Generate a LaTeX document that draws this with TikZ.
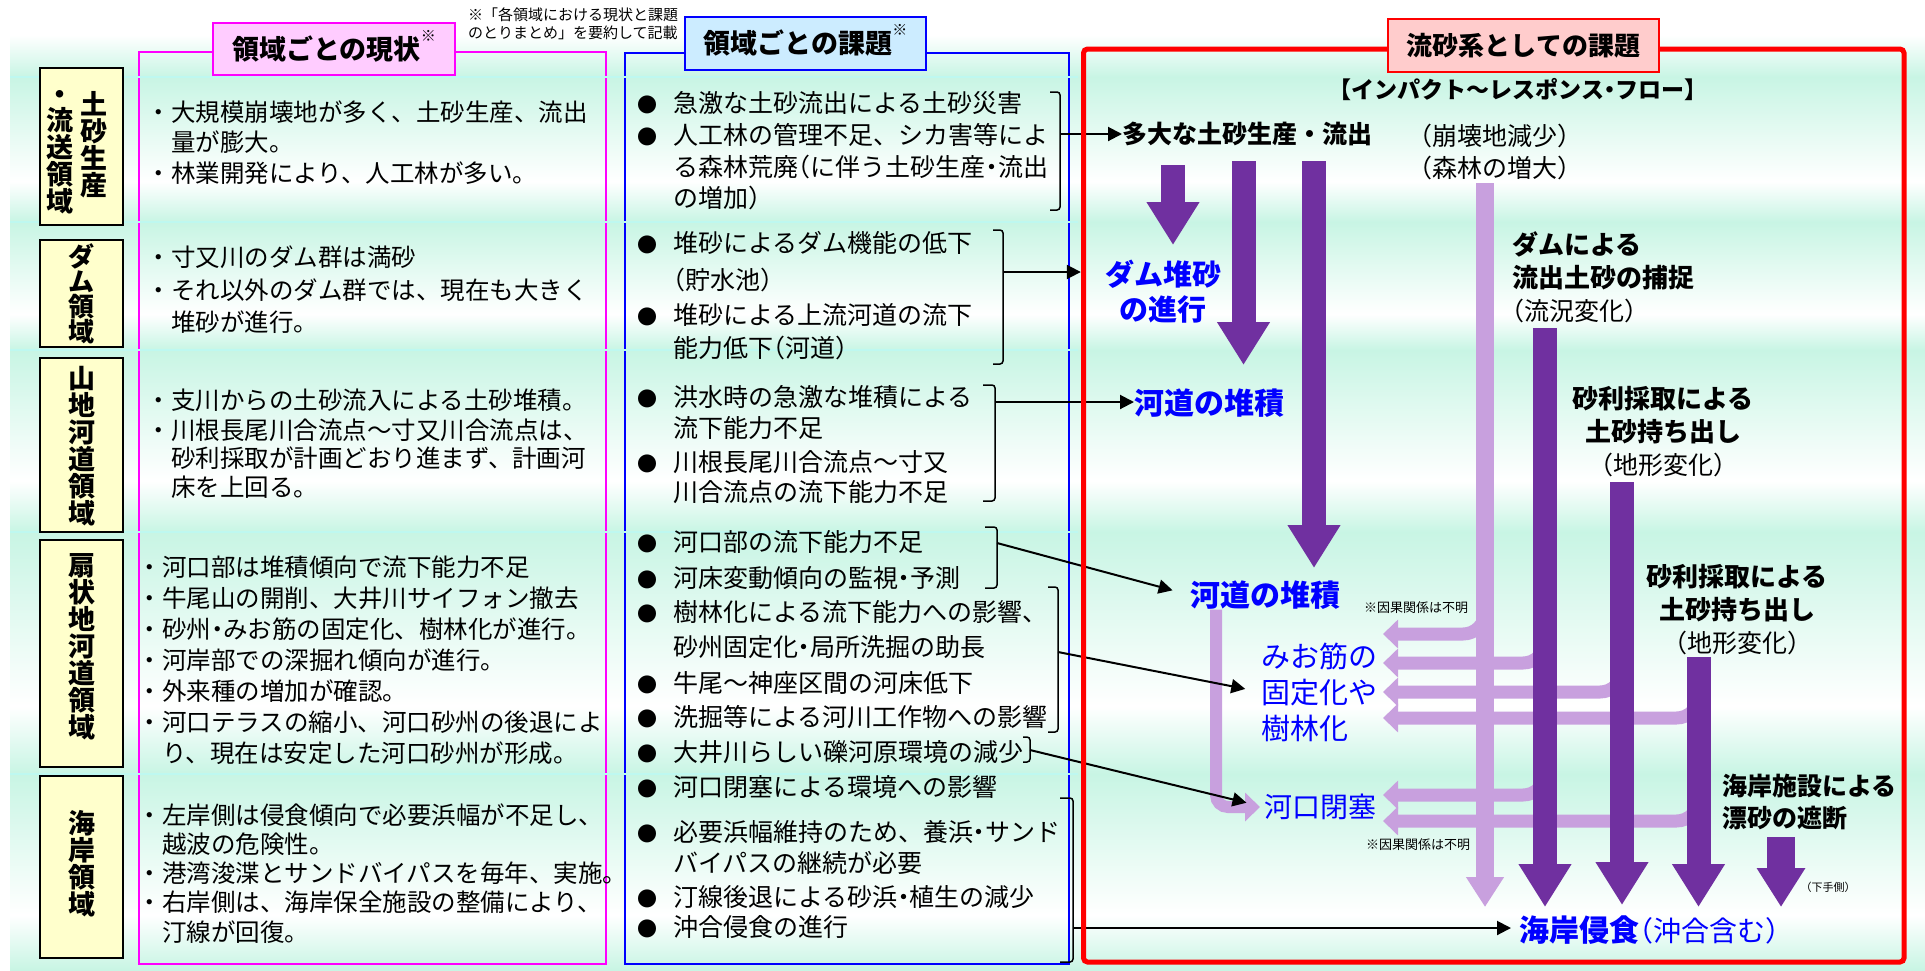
\documentclass[tikz,border=0pt]{standalone}
\usepackage{fontspec}
\setmainfont{Noto Sans CJK JP}
\usetikzlibrary{arrows.meta}
\definecolor{genmag}{RGB}{255,0,255}
\definecolor{genpink}{RGB}{255,204,255}
\definecolor{kadblue}{RGB}{0,0,255}
\definecolor{kadfill}{RGB}{204,236,255}
\definecolor{ryured}{RGB}{255,0,0}
\definecolor{ryufill}{RGB}{255,204,204}
\definecolor{ryoyel}{RGB}{255,255,204}
\definecolor{mint}{RGB}{200,245,228}
\definecolor{sepcyan}{RGB}{190,248,240}
\definecolor{dpurple}{RGB}{112,48,160}
\definecolor{lpurple}{RGB}{200,160,222}
\newcommand\gb{\llap{・}}
\newcommand\kb{\llap{{\fontsize{20}{20}\selectfont ●}\kern16pt}}
\newcommand\nk{\makebox[0.5em][c]{・}}
\newcommand\lp{\makebox[0.5em][r]{（}}
\newcommand\rp{\makebox[0.5em][l]{）}}

\begin{document}
\begin{tikzpicture}[x=1pt, y=-1pt,
  gtext/.style={anchor=west, inner sep=0pt, font=\fontsize{24.5}{24.5}\selectfont},
  ktext/.style={anchor=west, inner sep=0pt, font=\fontsize{25}{25}\selectfont},
  ybox/.style={draw=black, line width=1.5pt, fill=ryoyel, minimum width=83pt, inner sep=0pt},
  tate/.style={align=center, inner sep=0pt, font=\bfseries\fontsize{27}{27}\selectfont},
  hdr/.style={line width=2.5pt, inner sep=0pt, font=\bfseries\fontsize{27}{27}\selectfont},
  brk/.style={draw=black, line width=1.5pt, rounded corners=3pt},
  conn/.style={draw=black, line width=2pt, -{Triangle[length=14pt,width=14pt]}},
  dbar/.style={draw=dpurple, line width=24pt, -{Triangle[length=43pt,width=50pt]}},
  lbar/.style={draw=lpurple, line width=18pt, -{Triangle[length=30pt,width=36pt]}},
  lbr/.style={draw=lpurple, line width=13pt, rounded corners=22pt, -{Triangle[length=15pt,width=28pt]}},
  blk/.style={inner sep=0pt, font=\bfseries\fontsize{26}{33}\selectfont},
  tgt/.style={inner sep=0pt, text=kadblue},
]
\useasboundingbox (0,0) rectangle (1925,970);
\fill[white] (0,0) rectangle (1925,970);

% background bands
\shade[top color=white, bottom color=mint] (10,35) rectangle (1925,77);
\foreach \ya/\yb in {77/222,222/350,350/532,532/774,774/970}{
  \shade[top color=mint, bottom color=white] (10,\ya) rectangle (1925,{\ya+0.72*(\yb-\ya)});
  \shade[top color=white, bottom color=mint] (10,{\ya+0.72*(\yb-\ya)}) rectangle (1925,\yb);
}

% column frames
\draw[genmag, line width=1.5pt] (139,52) rectangle (606,964);
\draw[kadblue, line width=1.5pt] (625,53) rectangle (1069,964);
\foreach \y in {77,222,350,532,774}
  \draw[sepcyan, line width=2.5pt] (10,\y) -- (1078,\y);

% domain labels
\node[ybox, minimum height=157pt] (r1) at (81.5,146.5) {};
\node[tate] (r1a) at (94,145) {土\\砂\\生\\産};
\node[tate] (r1b) at (60,161) {流\\送\\領\\域};
\node[tate, anchor=south] (r1c) at ([yshift=3pt]r1b.north) {・};
\node[ybox, minimum height=107pt] (r2) at (81.5,293.5) {};
\node[tate, font=\bfseries\fontsize{26}{25}\selectfont] (r2t) at (r2) {ダ\\ム\\領\\域};
\node[ybox, minimum height=174pt] (r3) at (81.5,445) {};
\node[tate] (r3t) at (81.5,446) {山\\地\\河\\道\\領\\域};
\node[ybox, minimum height=227pt] (r4) at (81.5,653.5) {};
\node[tate] (r4t) at (81.5,647) {扇\\状\\地\\河\\道\\領\\域};
\node[ybox, minimum height=182pt] (r5) at (81.5,867) {};
\node[tate] (r5t) at (81.5,864) {海\\岸\\領\\域};

% headers
\node[hdr, draw=genmag, fill=genpink, minimum width=242pt, minimum height=52pt] (hgen) at (334,49)
  {領域ごとの現状\smash{\raisebox{18pt}{\mdseries\fontsize{15}{15}\selectfont ※}}};
\node[hdr, draw=kadblue, fill=kadfill, minimum width=241pt, minimum height=53pt] (hkad) at (805.5,43.5)
  {領域ごとの課題\smash{\raisebox{18pt}{\mdseries\fontsize{15}{15}\selectfont ※}}};
\node[inner sep=0pt, align=left, font=\fontsize{15}{18}\selectfont] (hnote) at (573,24)
  {※「各領域における現状と課題\\のとりまとめ」を要約して記載};

% present state
\foreach \x/\y/\t [count=\i] in {
  171/112/\gb 大規模崩壊地が多く、土砂生産、流出,
  171/142/量が膨大。,
  171/173/\gb 林業開発により、人工林が多い。,
  171/257/\gb 寸又川のダム群は満砂,
  171/290/\gb それ以外のダム群では、現在も大きく,
  171/322/堆砂が進行。,
  171/400/\gb 支川からの土砂流入による土砂堆積。,
  171/430/\gb 川根長尾川合流点～寸又川合流点は、,
  171/458/砂利採取が計画どおり進まず、計画河,
  171/487/床を上回る。,
  162/567/\gb 河口部は堆積傾向で流下能力不足,
  162/598/\gb 牛尾山の開削、大井川サイフォン撤去,
  162/629/\gb 砂州\nk みお筋の固定化、樹林化が進行。,
  162/660/\gb 河岸部での深掘れ傾向が進行。,
  162/691/\gb 外来種の増加が確認。,
  162/722/\gb 河口テラスの縮小、河口砂州の後退によ,
  162/753/り、現在は安定した河口砂州が形成。,
  162/815/\gb 左岸側は侵食傾向で必要浜幅が不足し、,
  162/844/越波の危険性。,
  162/873/\gb 港湾浚渫とサンドバイパスを毎年、実施。,
  162/902/\gb 右岸側は、海岸保全施設の整備により、,
  162/932/汀線が回復。}
  \node[gtext] (g\i) at (\x,\y) {\t};

% issues per domain
\foreach \y/\t [count=\i] in {
  103/\kb 急激な土砂流出による土砂災害,
  135/\kb 人工林の管理不足、シカ害等によ,
  167/る森林荒廃\lp に伴う土砂生産\nk 流出,
  198/の増加\rp,
  243/\kb 堆砂によるダム機能の低下,
  280/\lp 貯水池\rp,
  315/\kb 堆砂による上流河道の流下,
  348/能力低下\lp 河道\rp,
  397/\kb 洪水時の急激な堆積による,
  428/流下能力不足,
  462/\kb 川根長尾川合流点～寸又,
  492/川合流点の流下能力不足,
  542/\kb 河口部の流下能力不足,
  578/\kb 河床変動傾向の監視\nk 予測,
  612/\kb 樹林化による流下能力への影響、,
  647/砂州固定化\nk 局所洗掘の助長,
  683/\kb 牛尾～神座区間の河床低下,
  717/\kb 洗掘等による河川工作物への影響,
  752/\kb 大井川らしい礫河原環境の減少,
  787/\kb 河口閉塞による環境への影響,
  832/\kb 必要浜幅維持のため、養浜\nk サンド,
  863/バイパスの継続が必要,
  897/\kb 汀線後退による砂浜\nk 植生の減少,
  927/\kb 沖合侵食の進行}
  \node[ktext] (k\i) at (673,\y) {\t};

% brackets
\foreach \n/\xa/\xb/\ya/\yb/\yt in {b1/1050/1060/92/210/134, b2/993/1003/230/364/272,
    b3/983/995/385/501/402, b4/985/997/527/588/543, b5/1048/1058/587/732/652,
    b6/1023/1030/737/762/750, b7/1060/1073/798/962/928}{
  \draw[brk] (\xa,\ya) -- (\xb,\ya) -- (\xb,\yb) -- (\xa,\yb);
  \coordinate (\n) at (\xb,\yt);
}

% impact-response flow
\node[blk, font=\bfseries\fontsize{23}{23}\selectfont] (tflow) at (1518,90) {【インパクト～レスポンス\nk フロー】};
\node[blk, anchor=west, font=\bfseries\fontsize{25}{25}\selectfont] (tdai) at (1122,134) {多大な土砂生産・流出};
\node[anchor=west, inner sep=0pt, align=left, font=\fontsize{25}{32}\selectfont] (tkk) at (1420,152)
  {\lp 崩壊地減少\rp\\\lp 森林の増大\rp};
\node[tgt, align=center, font=\bfseries\fontsize{29}{35}\selectfont] (tdam) at (1163,292) {ダム堆砂\\の進行};
\node[tgt, anchor=west, font=\bfseries\fontsize{30}{30}\selectfont] (tkd1) at (1134,403) {河道の堆積};
\node[tgt, anchor=west, font=\bfseries\fontsize{30}{30}\selectfont] (tkd2) at (1190,595) {河道の堆積};
\node[blk, anchor=west, align=left] (tdamh) at (1512,277)
  {ダムによる\\流出土砂の捕捉\\\mdseries\fontsize{25}{33}\selectfont\lp 流況変化\rp};
\node[blk, align=center] (tjari1) at (1663,432)
  {砂利採取による\\土砂持ち出し\\\mdseries\fontsize{25}{33}\selectfont\lp 地形変化\rp};
\node[blk, align=center] (tjari2) at (1737,610)
  {砂利採取による\\土砂持ち出し\\\mdseries\fontsize{25}{33}\selectfont\lp 地形変化\rp};
\node[tgt, anchor=west, align=left, font=\fontsize{29}{36}\selectfont] (tmio) at (1261,692) {みお筋の\\固定化や\\樹林化};
\node[tgt, anchor=west, font=\fontsize{28}{28}\selectfont] (tkako) at (1264,807) {河口閉塞};
\node[blk, anchor=west, align=left, font=\bfseries\fontsize{25}{32}\selectfont] (tkaigan) at (1722,802) {海岸施設による\\漂砂の遮断};
\node[anchor=west, inner sep=0pt, font=\fontsize{11}{11}\selectfont] (tshimo) at (1806,887) {\lp 下手側\rp};
\node[tgt, anchor=west, font=\bfseries\fontsize{30}{30}\selectfont] (tshin) at (1519,930)
  {海岸侵食{\mdseries\fontsize{28}{28}\selectfont\lp 沖合含む\rp}};
\node[anchor=west, inner sep=0pt, font=\fontsize{13}{13}\selectfont] (tnote1) at (1364,608) {※因果関係は不明};
\node[anchor=west, inner sep=0pt, font=\fontsize{13}{13}\selectfont] (tnote2) at (1366,845) {※因果関係は不明};

% light branches
\foreach \n/\xb/\yb in {m1/1485/634, m2/1545/663, m3/1622/692, m4/1698.5/718, m5/1545/795, m6/1698.5/821}{
  \coordinate (\n0) at (\xb,{\yb-36});
  \coordinate (\n1) at (1383,\yb);
  \draw[lbr] (\n0) |- (\n1);
}
\coordinate (lb0) at (1485,183);
\coordinate (lb1) at (1485,907);
\draw[lbar] (lb0) -- (lb1);
\draw[lbr, rounded corners=12pt, line width=12pt, shorten >=4pt] ([xshift=26pt]tkd2.south west) |- (tkako.west);

% dark bars
\foreach \n/\x/\ya/\yb in {bA/1173/165/245, bB/1243.5/161/365, bC/1314/161/568,
    bD/1545/328/907, bE/1622/482/905, bF/1698.5/657/907}{
  \coordinate (\n0) at (\x,\ya);
  \coordinate (\n1) at (\x,\yb);
  \draw[dbar] (\n0) -- (\n1);
}
\coordinate (bG0) at (1781,837);
\coordinate (bG1) at (1781,907);
\draw[dbar, line width=28pt, -{Triangle[length=39pt,width=46pt]}] (bG0) -- (bG1);

% connectors
\draw[conn] (b1) -- (b1 -| tdai.west);
\draw[conn, shorten >=24pt] (b2) -- (b2 -| tdam.west);
\draw[conn] (b3) -- (b3 -| tkd1.west);
\draw[conn, shorten >=18pt] (b4) -- (tkd2.west);
\draw[conn, shorten >=16pt] (b5) -- (tmio.west);
\draw[conn, shorten >=18pt] (b6) -- (tkako.west);
\draw[conn, shorten >=8pt] (b7) -- (b7 -| tshin.west);

% red frame
\draw[ryured, line width=5pt, rounded corners=4pt] (1083.5,49) rectangle (1904,962);
\node[hdr, draw=ryured, fill=ryufill, minimum width=271pt, minimum height=53pt,
  font=\bfseries\fontsize{26}{26}\selectfont] (hryu) at (1523.5,45.5) {流砂系としての課題};
\end{tikzpicture}
\end{document}
